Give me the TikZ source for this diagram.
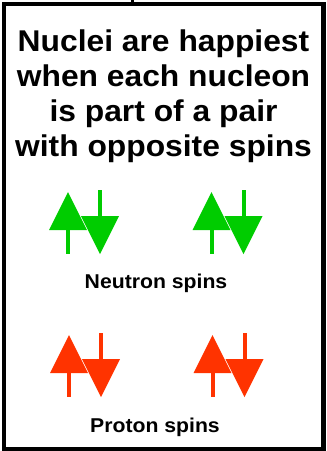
\documentclass[tikz,border=0pt]{standalone}
\usepackage{fontspec}
\setmainfont{Liberation Sans}[FakeStretch=1.06]
\usepackage{xcolor}
\usetikzlibrary{positioning}
\definecolor{SpinGreen}{HTML}{00CC00}
\definecolor{SpinRed}{HTML}{FF3300}

\begin{document}
\begin{tikzpicture}[x=1pt,y=-1pt, every node/.style={font=\bfseries,inner sep=0pt}, frame/.style={draw=black,line width=4.5pt}, title/.style={font=\bfseries\fontsize{30}{35}\selectfont,align=center}, caption/.style={font=\bfseries\fontsize{20}{24}\selectfont}]
\useasboundingbox (0,0) rectangle (327,451);
\draw[frame] (4,4) rectangle (323.5,449.5);
\draw[line width=3pt] (132.5,0) -- (132.5,4);
\node[title,anchor=base] (head) at (163.5,156) {Nuclei are happiest\\when each nucleon\\is part of a pair\\with opposite spins};
% spin pairs: up arrow apex at (\px,\py)
\foreach \px/\py/\col in {68/192/SpinGreen,211.5/192/SpinGreen,69/335/SpinRed,212.5/335/SpinRed}{
  \fill[\col] (\px,\py) -- ++(-19,38) -- ++(38,0) -- cycle;
  \fill[\col] (\px-2,\py+38) rectangle (\px+2,\py+62);
  \fill[\col] (\px+30,\py-2) rectangle (\px+34,\py+24);
  \fill[\col] (\px+13,\py+24) -- ++(38,0) -- ++(-19,38) -- cycle;
}
\node[caption,anchor=base] (neutron) at (156,288) {Neutron spins};
\node[caption,anchor=base] (proton) at (155,432) {Proton spins};
\end{tikzpicture}
\end{document}
